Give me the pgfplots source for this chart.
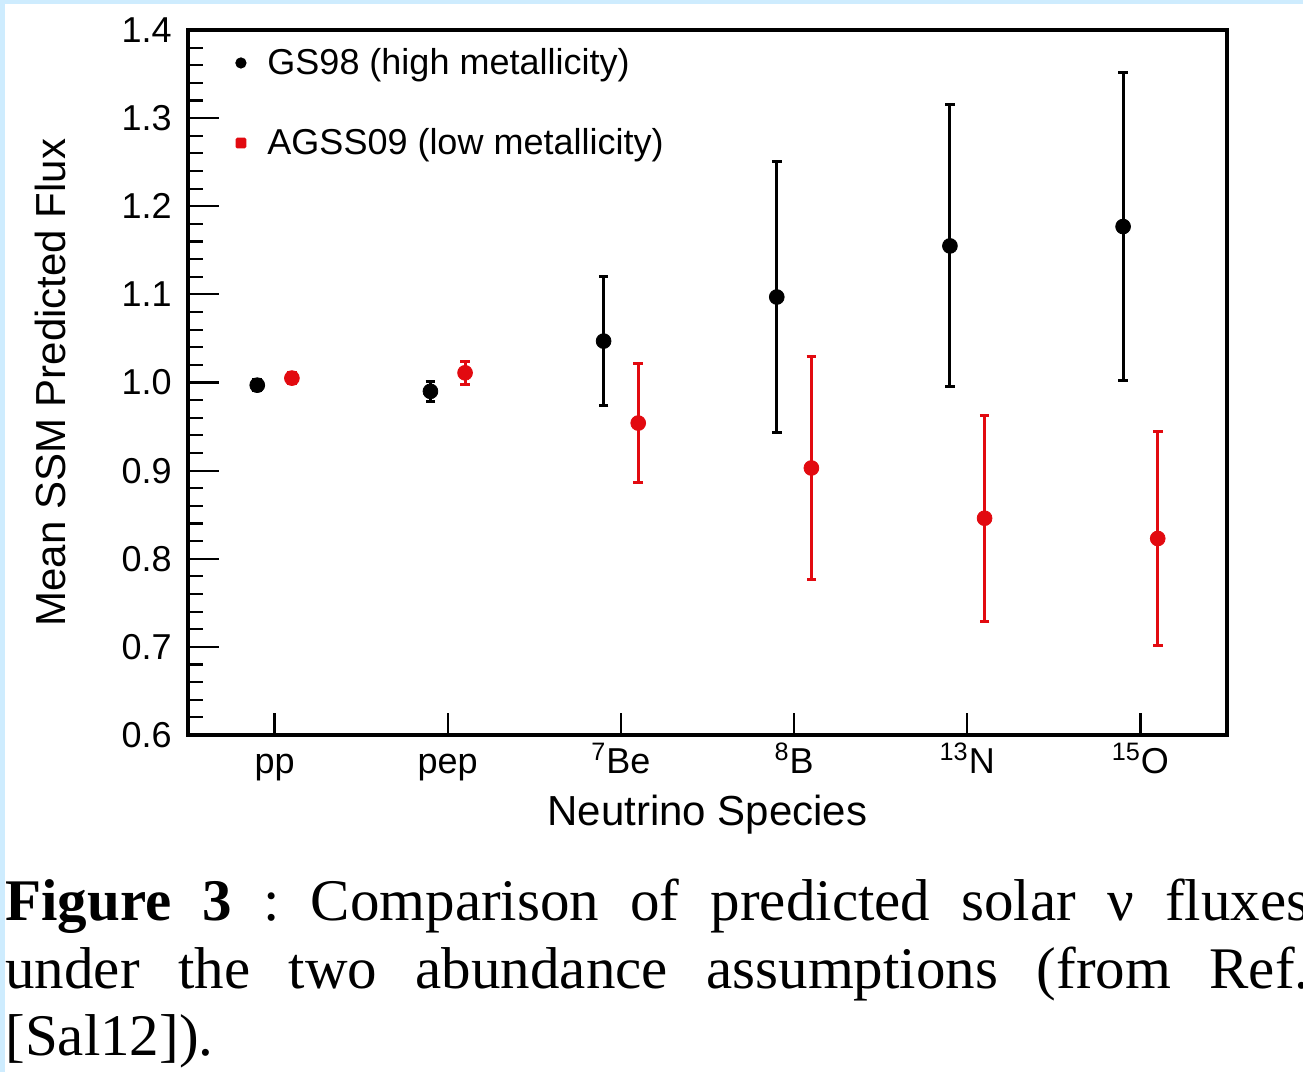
\documentclass[border=0pt]{standalone}
\usepackage{fontspec}
\setmainfont{Liberation Sans}
\newfontfamily\capfont{Liberation Serif}
\usepackage{pgfplots}
\pgfplotsset{compat=1.18}
\definecolor{bgblue}{RGB}{206,236,254}
\definecolor{myred}{RGB}{226,10,16}
\frenchspacing
\begin{document}
\begin{tikzpicture}
\path[use as bounding box] (0,0) rectangle (651.5pt,-536pt);
\clip (0,0) rectangle (651.5pt,-536pt);
\fill[white] (0,0) rectangle (651.5pt,-536pt);
\fill[bgblue] (0,0) rectangle (651.5pt,-2pt);
\fill[bgblue] (0,0) rectangle (2.3pt,-536pt);
\begin{axis}[
  at={(94pt,-367.5pt)}, anchor=south west,
  scale only axis, width=519.5pt, height=352.5pt,
  xmin=-0.5, xmax=5.5, ymin=0.6, ymax=1.4,
  xtick={0,1,2,3,4,5},
  xticklabels={pp,pep,\textsuperscript{7}Be,\textsuperscript{8}B,\textsuperscript{13}N,\textsuperscript{15}O},
  ytick={0.6,0.7,0.8,0.9,1.0,1.1,1.2,1.3,1.4},
  minor y tick num=4,
  xtick pos=lower, ytick pos=left,
  tick align=inside,
  axis line style={line width=1.6pt},
  tick style={black, line width=1.1pt},
  xtick style={/pgfplots/major tick length=11pt},
  ytick style={/pgfplots/major tick length=15.5pt, /pgfplots/minor tick length=7.5pt},
  /pgf/number format/assume math mode=true,
  yticklabel style={/pgf/number format/.cd, fixed, fixed zerofill, precision=1, /tikz/.cd,
    font=\fontsize{18}{18}\selectfont, anchor=east, inner sep=0pt, xshift=-8pt},
  xticklabel style={font=\fontsize{18}{18}\selectfont, anchor=base, inner sep=0pt, yshift=-19pt},
  xlabel={Neutrino Species},
  ylabel={Mean SSM Predicted Flux},
  every axis x label/.style={at={(axis description cs:0.5,0)}, anchor=base, yshift=-45pt, font=\fontsize{21}{21}\selectfont},
  every axis y label/.style={at={(axis description cs:-0.1328,0.5)}, rotate=90, anchor=center, font=\fontsize{21}{21}\selectfont},
  legend style={at={(axis description cs:0,1)}, anchor=north west, xshift=19pt, yshift=-5pt,
    draw=none, fill=none, font=\fontsize{18}{18}\selectfont, row sep=21.5pt,
    /tikz/every odd column/.append style={column sep=7pt}},
  legend cell align=left,
]
\addplot[only marks, mark=*, black, mark size=3.7pt,
  legend image code/.code={\path[draw=none, fill=none] (0.15cm,-0.1cm) rectangle (0.45cm,0.1cm); \fill[black] (0.3cm,0cm) circle (2.6pt);},
  error bars/.cd, y dir=both, y explicit,
  error bar style={line width=1.5pt, black},
  error mark options={rotate=90, line width=1.5pt, mark size=2.4pt, black},
  ]
  coordinates {
  (-0.1,0.997) +- (0,0.006)
  (0.9,0.990) +- (0,0.011)
  (1.9,1.047) +- (0,0.073)
  (2.9,1.097) +- (0,0.154)
  (3.9,1.155) +- (0,0.160)
  (4.9,1.177) +- (0,0.175)
  };
\addlegendentry{GS98 (high metallicity)}
\addplot[only marks, mark=*, myred, mark size=3.7pt,
  legend image code/.code={\path[draw=none, fill=none] (0.15cm,-0.1cm) rectangle (0.45cm,0.1cm); \fill[myred, draw=none, rounded corners=0.8pt] (0.3cm-2.7pt,-2.7pt) rectangle (0.3cm+2.7pt,2.7pt);},
  error bars/.cd, y dir=both, y explicit,
  error bar style={line width=1.5pt, myred},
  error mark options={rotate=90, line width=1.5pt, mark size=2.4pt, myred},
  ]
  coordinates {
  (0.1,1.005) +- (0,0.006)
  (1.1,1.011) +- (0,0.013)
  (2.1,0.954) +- (0,0.068)
  (3.1,0.903) +- (0,0.126)
  (4.1,0.846) +- (0,0.117)
  (5.1,0.823) +- (0,0.121)
  };
\addlegendentry{AGSS09 (low metallicity)}
\end{axis}
\node[anchor=base west, inner sep=0pt] at (2.5pt,-460pt) {\capfont\fontsize{29.5}{35}\selectfont\makebox[652pt][s]{\textbf{Figure 3} : Comparison of predicted solar ν fluxes}};
\node[anchor=base west, inner sep=0pt] at (2.5pt,-494pt) {\capfont\fontsize{29.5}{35}\selectfont\makebox[652pt][s]{under the two abundance assumptions (from Ref.}};
\node[anchor=base west, inner sep=0pt] at (2.5pt,-527.5pt) {\capfont\fontsize{29.5}{35}\selectfont [Sal12]).};
\end{tikzpicture}
\end{document}
